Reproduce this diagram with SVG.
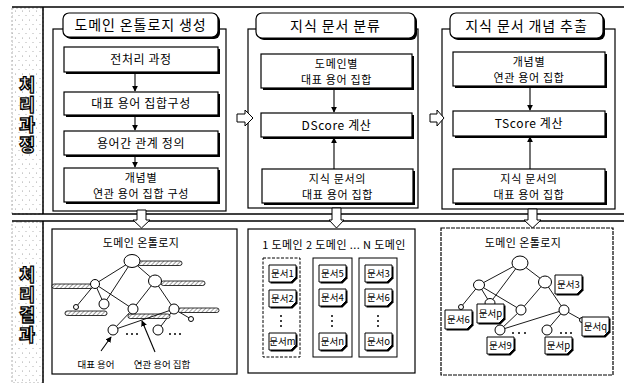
<svg xmlns="http://www.w3.org/2000/svg" width="624" height="383" viewBox="0 0 624 383">
<style>
  .frame{fill:none;stroke:#000;stroke-width:1.5}
  .panel{fill:#fff;stroke:#000;stroke-width:1.2}
  .box{fill:#fff;stroke:#000;stroke-width:1.2}
  .shd{fill:#000}
  .t{font-family:"Noto Sans CJK KR","Noto Sans",sans-serif;font-size:12px;text-anchor:middle;fill:#000;letter-spacing:0.6px}
  .t2{font-family:"Noto Sans CJK KR","Noto Sans",sans-serif;font-size:11px;text-anchor:middle;fill:#000;letter-spacing:0.7px}
  .tt{font-family:"Noto Sans CJK KR","Noto Sans",sans-serif;font-size:14px;text-anchor:middle;fill:#000;letter-spacing:0.9px}
  .ts{font-family:"Noto Sans CJK KR","Noto Sans",sans-serif;font-size:11px;text-anchor:middle;fill:#000;letter-spacing:0.4px}
  .td{font-family:"Noto Sans CJK KR","Noto Sans",sans-serif;font-size:9.5px;text-anchor:middle;fill:#000}
  .side{font-family:"Noto Sans CJK KR","Noto Sans",sans-serif;font-size:17px;font-weight:900;text-anchor:middle;fill:#fff;stroke:#000;stroke-width:1.3;writing-mode:vertical-rl;letter-spacing:3px}
  .nd{fill:#fff;stroke:#000;stroke-width:1}
  .ed{fill:none;stroke:#000;stroke-width:0.9}
  .bar{fill:url(#hatch);stroke:#000;stroke-width:0.8}
  .con{fill:none;stroke:#000;stroke-width:1.1}
  .harrow{fill:#fff;stroke:#000;stroke-width:1}
  .dot{fill:#000}
  .col{fill:#fff;stroke:#000;stroke-width:1}
</style>
<defs>
  <marker id="ah" viewBox="0 0 8 8" refX="7" refY="4" markerWidth="6" markerHeight="6" orient="auto" markerUnits="userSpaceOnUse">
    <path d="M0,0 L8,4 L0,8 z" fill="#000"/>
  </marker>
  <pattern id="hatch" width="3" height="3" patternUnits="userSpaceOnUse" patternTransform="rotate(45)">
    <rect width="3" height="3" fill="#fff"/>
    <line x1="0" y1="0" x2="0" y2="3" stroke="#777" stroke-width="1.4"/>
  </pattern>
  <pattern id="speck" width="7" height="9" patternUnits="userSpaceOnUse">
    <rect width="7" height="9" fill="#fff"/>
    <circle cx="1.5" cy="2" r="0.5" fill="#888"/>
    <circle cx="5" cy="6.5" r="0.5" fill="#999"/>
  </pattern>
  <path id="doc" d="M0,0 H27 V12 L22,17 H0 Z"/>
  <path id="docL" d="M0,0 H27 V14 L22,19 H0 Z"/>
</defs>

<rect width="624" height="383" fill="#fff"/>

<!-- frames and side bars -->
<g id="frames">
  <rect id="side-process" x="12" y="8" width="31" height="206" fill="url(#speck)" stroke="#999" stroke-width="0.8" stroke-dasharray="2 2"/>
  <rect id="side-result" x="12" y="222" width="31" height="161" fill="url(#speck)" stroke="#999" stroke-width="0.8" stroke-dasharray="2 2"/>
  <line class="frame" x1="12" y1="7" x2="624" y2="7"/>
  <line class="frame" x1="43" y1="7" x2="43" y2="214"/>
  <line class="frame" x1="43" y1="221" x2="43" y2="383"/>
  <line class="frame" x1="12" y1="214" x2="624" y2="214"/>
  <line class="frame" x1="12" y1="221" x2="624" y2="221"/>
  <text class="side" x="27" y="116">처리과정</text>
  <text class="side" x="27" y="306">처리결과</text>
</g>

<!-- panels -->
<g id="panel-ontology-build">
  <rect class="panel" x="53" y="29" width="173" height="182"/>
  <rect class="shd" x="65" y="15" width="155" height="24" rx="6"/>
  <rect class="box" x="63" y="13" width="155" height="24" rx="6"/>
  <text class="tt" x="140.5" y="30">도메인 온톨로지 생성</text>
</g>
<g id="panel-classify">
  <rect class="panel" x="248" y="29" width="170" height="179"/>
  <rect class="shd" x="258" y="15" width="159" height="25" rx="6"/>
  <rect class="box" x="256" y="13" width="159" height="25" rx="6"/>
  <text class="tt" x="335.5" y="30.5">지식 문서 분류</text>
</g>
<g id="panel-extract">
  <rect class="panel" x="442" y="29" width="173" height="180"/>
  <rect class="shd" x="452" y="15" width="153" height="25" rx="6"/>
  <rect class="box" x="450" y="13" width="153" height="25" rx="6"/>
  <text class="tt" x="526.5" y="30.5">지식 문서 개념 추출</text>
</g>

<!-- panel 1 boxes -->
<g id="n-preprocess">
  <rect class="shd" x="66" y="49" width="154" height="25"/>
  <rect class="box" x="64" y="47" width="154" height="25"/>
  <text class="t" x="141" y="64">전처리 과정</text>
</g>
<g id="n-repterm">
  <rect class="shd" x="66" y="94" width="154" height="23"/>
  <rect class="box" x="64" y="92" width="154" height="23"/>
  <text class="t" x="141" y="108">대표 용어 집합구성</text>
</g>
<g id="n-relation">
  <rect class="shd" x="66" y="133" width="154" height="24"/>
  <rect class="box" x="64" y="131" width="154" height="24"/>
  <text class="t" x="141" y="148">용어간 관계 정의</text>
</g>
<g id="n-concept-set">
  <rect class="shd" x="66" y="170" width="154" height="34"/>
  <rect class="box" x="64" y="168" width="154" height="34"/>
  <text class="t2" x="141" y="182">개념별</text>
  <text class="t2" x="141" y="198.2">연관 용어 집합 구성</text>
</g>

<!-- panel 2 boxes -->
<g id="n-domain-rep">
  <rect class="shd" x="263" y="56" width="151" height="34"/>
  <rect class="box" x="261" y="54" width="151" height="34"/>
  <text class="t2" x="336.5" y="67.5">도메인별</text>
  <text class="t2" x="336.5" y="83.7">대표 용어 집합</text>
</g>
<g id="n-dscore">
  <rect class="shd" x="263" y="115" width="151" height="24"/>
  <rect class="box" x="261" y="113" width="151" height="24"/>
  <text class="t" x="336.5" y="129.5">DScore 계산</text>
</g>
<g id="n-doc-rep1">
  <rect class="shd" x="264" y="171" width="151" height="34"/>
  <rect class="box" x="262" y="169" width="151" height="34"/>
  <text class="t2" x="337.5" y="182.5">지식 문서의</text>
  <text class="t2" x="337.5" y="198.7">대표 용어 집합</text>
</g>

<!-- panel 3 boxes -->
<g id="n-concept-rel">
  <rect class="shd" x="455" y="54" width="152" height="34"/>
  <rect class="box" x="453" y="52" width="152" height="34"/>
  <text class="t2" x="529" y="65.5">개념별</text>
  <text class="t2" x="529" y="81.7">연관 용어 집합</text>
</g>
<g id="n-tscore">
  <rect class="shd" x="455" y="113" width="152" height="25"/>
  <rect class="box" x="453" y="111" width="152" height="25"/>
  <text class="t" x="529" y="128">TScore 계산</text>
</g>
<g id="n-doc-rep2">
  <rect class="shd" x="455" y="171" width="152" height="34"/>
  <rect class="box" x="453" y="169" width="152" height="34"/>
  <text class="t2" x="529" y="182.5">지식 문서의</text>
  <text class="t2" x="529" y="198.7">대표 용어 집합</text>
</g>

<!-- connectors -->
<g id="connectors">
  <line class="con" x1="135" y1="72" x2="135" y2="91" marker-end="url(#ah)"/>
  <line class="con" x1="135" y1="115" x2="135" y2="130" marker-end="url(#ah)"/>
  <line class="con" x1="135" y1="155" x2="135" y2="167" marker-end="url(#ah)"/>
  <line class="con" x1="334" y1="88" x2="334" y2="112" marker-end="url(#ah)"/>
  <line class="con" x1="334" y1="169" x2="334" y2="138" marker-end="url(#ah)"/>
  <line class="con" x1="530" y1="86" x2="530" y2="110" marker-end="url(#ah)"/>
  <line class="con" x1="530" y1="169" x2="530" y2="137" marker-end="url(#ah)"/>
  <polygon class="harrow" points="237,114 245,114 245,110 253,118 245,126 245,122 237,122"/>
  <polygon class="harrow" points="430,114 437,114 437,110 444,118 437,126 437,122 430,122"/>
  <polygon class="harrow" points="137,210 146,210 146,220 150,220 141.5,228 133,220 137,220"/>
  <polygon class="harrow" points="332,208 341,208 341,220 344,220 336.5,228 329,220 332,220"/>
  <polygon class="harrow" points="528,209 537,209 537,220 541,220 532.5,228 524,220 528,220"/>
</g>

<!-- bottom panels -->
<g id="result-ontology">
  <rect class="panel" x="52" y="229" width="185" height="145"/>
  <text class="ts" x="141" y="247">도메인 온톨로지</text>
  <g id="onto1-edges">
    <line class="ed" x1="132" y1="261" x2="95" y2="284"/>
    <line class="ed" x1="132" y1="261" x2="104" y2="304"/>
    <line class="ed" x1="132" y1="261" x2="155" y2="281"/>
    <line class="ed" x1="95" y1="284" x2="76" y2="307"/>
    <line class="ed" x1="95" y1="284" x2="104" y2="304"/>
    <line class="ed" x1="95" y1="284" x2="133" y2="309"/>
    <line class="ed" x1="155" y1="281" x2="133" y2="309"/>
    <line class="ed" x1="155" y1="281" x2="174" y2="309"/>
    <line class="ed" x1="174" y1="309" x2="191" y2="319"/>
    <line class="ed" x1="174" y1="309" x2="158" y2="330"/>
  </g>
  <g id="onto1-bars">
    <rect class="bar" x="137" y="261" width="45" height="4.5" rx="2.2"/>
    <rect class="bar" x="161" y="281" width="44" height="4.5" rx="2.2"/>
    <rect class="bar" x="52" y="284" width="41" height="4.5" rx="2.2"/>
    <rect class="bar" x="65" y="311" width="42" height="4.5" rx="2.2"/>
    <rect class="bar" x="178" y="308" width="41" height="4.5" rx="2.2"/>
    <rect class="bar" x="128" y="314" width="42" height="4.5" rx="2.2"/>
  </g>
  <line class="ed" x1="133" y1="309" x2="113" y2="330"/>
  <line class="ed" x1="174" y1="309" x2="113" y2="330"/>
  <g id="onto1-nodes">
    <ellipse class="nd" cx="132" cy="261" rx="8" ry="6.5"/>
    <ellipse class="nd" cx="155" cy="281" rx="6.5" ry="6"/>
    <ellipse class="nd" cx="95" cy="284" rx="4.5" ry="4.5"/>
    <circle class="nd" cx="76" cy="307" r="2.5"/>
    <ellipse class="nd" cx="104" cy="304" rx="5" ry="5"/>
    <ellipse class="nd" cx="133" cy="309" rx="5" ry="5"/>
    <ellipse class="nd" cx="174" cy="309" rx="5" ry="5"/>
    <circle class="nd" cx="191" cy="319" r="2.5"/>
    <ellipse class="nd" cx="113" cy="330" rx="5" ry="5"/>
    <ellipse class="nd" cx="158" cy="330" rx="5" ry="5"/>
  </g>
  <g class="dot">
    <circle cx="127" cy="334" r="1"/><circle cx="132" cy="334" r="1"/><circle cx="137" cy="334" r="1"/>
    <circle cx="170" cy="334" r="1"/><circle cx="175" cy="334" r="1"/><circle cx="180" cy="334" r="1"/>
  </g>
  <line class="con" x1="101" y1="351" x2="111" y2="337" marker-end="url(#ah)"/>
  <line class="con" x1="155" y1="352" x2="142" y2="321" marker-end="url(#ah)"/>
  <text class="td" x="96" y="368">대표 용어</text>
  <text class="td" x="162" y="368">연관 용어 집합</text>
</g>

<g id="result-classify">
  <rect class="panel" x="248" y="229" width="167" height="144"/>
  <text class="ts" x="334" y="249">1 도메인  2 도메인 ... N 도메인</text>
  <rect class="col" x="263" y="258" width="37" height="99" stroke-dasharray="3 1.5"/>
  <rect class="col" x="313" y="258" width="39" height="99"/>
  <rect class="col" x="359" y="258" width="38" height="99"/>
  <g id="doc-1"><use href="#doc" x="270.5" y="266.5"/><use href="#doc" x="269" y="265" fill="#fff" stroke="#000" stroke-width="1"/><text class="td" x="282.5" y="277">문서1</text></g>
  <g id="doc-2"><use href="#doc" x="270.5" y="291.5"/><use href="#doc" x="269" y="290" fill="#fff" stroke="#000" stroke-width="1"/><text class="td" x="282.5" y="302">문서2</text></g>
  <g id="doc-m"><use href="#doc" x="270.5" y="334.5"/><use href="#doc" x="269" y="333" fill="#fff" stroke="#000" stroke-width="1"/><text class="td" x="282.5" y="345">문서m</text></g>
  <g id="doc-5"><use href="#doc" x="320.5" y="266.5"/><use href="#doc" x="319" y="265" fill="#fff" stroke="#000" stroke-width="1"/><text class="td" x="332.5" y="277">문서5</text></g>
  <g id="doc-4"><use href="#doc" x="320.5" y="290.5"/><use href="#doc" x="319" y="289" fill="#fff" stroke="#000" stroke-width="1"/><text class="td" x="332.5" y="301">문서4</text></g>
  <g id="doc-n"><use href="#doc" x="320.5" y="334.5"/><use href="#doc" x="319" y="333" fill="#fff" stroke="#000" stroke-width="1"/><text class="td" x="332.5" y="345">문서n</text></g>
  <g id="doc-3a"><use href="#doc" x="366.5" y="266.5"/><use href="#doc" x="365" y="265" fill="#fff" stroke="#000" stroke-width="1"/><text class="td" x="378.5" y="277">문서3</text></g>
  <g id="doc-6a"><use href="#doc" x="366.5" y="290.5"/><use href="#doc" x="365" y="289" fill="#fff" stroke="#000" stroke-width="1"/><text class="td" x="378.5" y="301">문서6</text></g>
  <g id="doc-o"><use href="#doc" x="366.5" y="334.5"/><use href="#doc" x="365" y="333" fill="#fff" stroke="#000" stroke-width="1"/><text class="td" x="378.5" y="345">문서o</text></g>
  <g class="dot">
    <circle cx="281" cy="316" r="1"/><circle cx="281" cy="321" r="1"/><circle cx="281" cy="326" r="1"/>
    <circle cx="332" cy="316" r="1"/><circle cx="332" cy="321" r="1"/><circle cx="332" cy="326" r="1"/>
    <circle cx="378" cy="316" r="1"/><circle cx="378" cy="321" r="1"/><circle cx="378" cy="326" r="1"/>
  </g>
</g>

<g id="result-extract">
  <rect class="panel" x="441" y="228" width="172" height="147" stroke-dasharray="4 1"/>
  <text class="ts" x="523" y="247">도메인 온톨로지</text>
  <g id="onto2-edges">
    <line class="ed" x1="520" y1="263" x2="479" y2="285"/>
    <line class="ed" x1="520" y1="263" x2="490" y2="303"/>
    <line class="ed" x1="520" y1="263" x2="545" y2="282"/>
    <line class="ed" x1="479" y1="285" x2="461" y2="307"/>
    <line class="ed" x1="479" y1="285" x2="490" y2="303"/>
    <line class="ed" x1="479" y1="285" x2="521" y2="310"/>
    <line class="ed" x1="545" y1="282" x2="521" y2="310"/>
    <line class="ed" x1="545" y1="282" x2="564" y2="310"/>
    <line class="ed" x1="564" y1="310" x2="582" y2="320"/>
    <line class="ed" x1="564" y1="310" x2="547" y2="330"/>
    <line class="ed" x1="521" y1="310" x2="500" y2="330"/>
    <line class="ed" x1="564" y1="310" x2="500" y2="330"/>
  </g>
  <g id="onto2-nodes">
    <ellipse class="nd" cx="520" cy="263" rx="8" ry="7"/>
    <ellipse class="nd" cx="545" cy="282" rx="6.5" ry="6"/>
    <ellipse class="nd" cx="479" cy="285" rx="5.5" ry="5"/>
    <circle class="nd" cx="461" cy="307" r="2.5"/>
    <ellipse class="nd" cx="490" cy="303" rx="5" ry="4.5"/>
    <ellipse class="nd" cx="521" cy="310" rx="5" ry="5"/>
    <ellipse class="nd" cx="564" cy="310" rx="5" ry="5"/>
    <circle class="nd" cx="582" cy="320" r="2.5"/>
    <ellipse class="nd" cx="500" cy="330" rx="5" ry="5"/>
    <ellipse class="nd" cx="547" cy="330" rx="5" ry="5"/>
  </g>
  <g class="dot">
    <circle cx="513" cy="333" r="1"/><circle cx="519" cy="333" r="1"/><circle cx="525" cy="333" r="1"/>
    <circle cx="561" cy="333" r="1"/><circle cx="566" cy="333" r="1"/><circle cx="571" cy="333" r="1"/>
  </g>
  <g id="doc-3b"><use href="#docL" x="556.5" y="276.5"/><use href="#docL" x="555" y="275" fill="#fff" stroke="#000" stroke-width="1"/><text class="td" x="568.5" y="288">문서3</text></g>
  <g id="doc-6b"><use href="#docL" x="446.5" y="311.5"/><use href="#docL" x="445" y="310" fill="#fff" stroke="#000" stroke-width="1"/><text class="td" x="458.5" y="323">문서6</text></g>
  <g id="doc-p1"><use href="#docL" x="478.5" y="305.5"/><use href="#docL" x="477" y="304" fill="#fff" stroke="#000" stroke-width="1"/><text class="td" x="490.5" y="317">문서p</text></g>
  <g id="doc-9"><use href="#doc" x="488.5" y="338.5"/><use href="#doc" x="487" y="337" fill="#fff" stroke="#000" stroke-width="1"/><text class="td" x="500.5" y="349">문서9</text></g>
  <g id="doc-p2"><use href="#doc" x="546.5" y="338.5"/><use href="#doc" x="545" y="337" fill="#fff" stroke="#000" stroke-width="1"/><text class="td" x="558.5" y="349">문서p</text></g>
  <g id="doc-q"><use href="#docL" x="583.5" y="318.5"/><use href="#docL" x="582" y="317" fill="#fff" stroke="#000" stroke-width="1"/><text class="td" x="595.5" y="330">문서q</text></g>
</g>
</svg>
